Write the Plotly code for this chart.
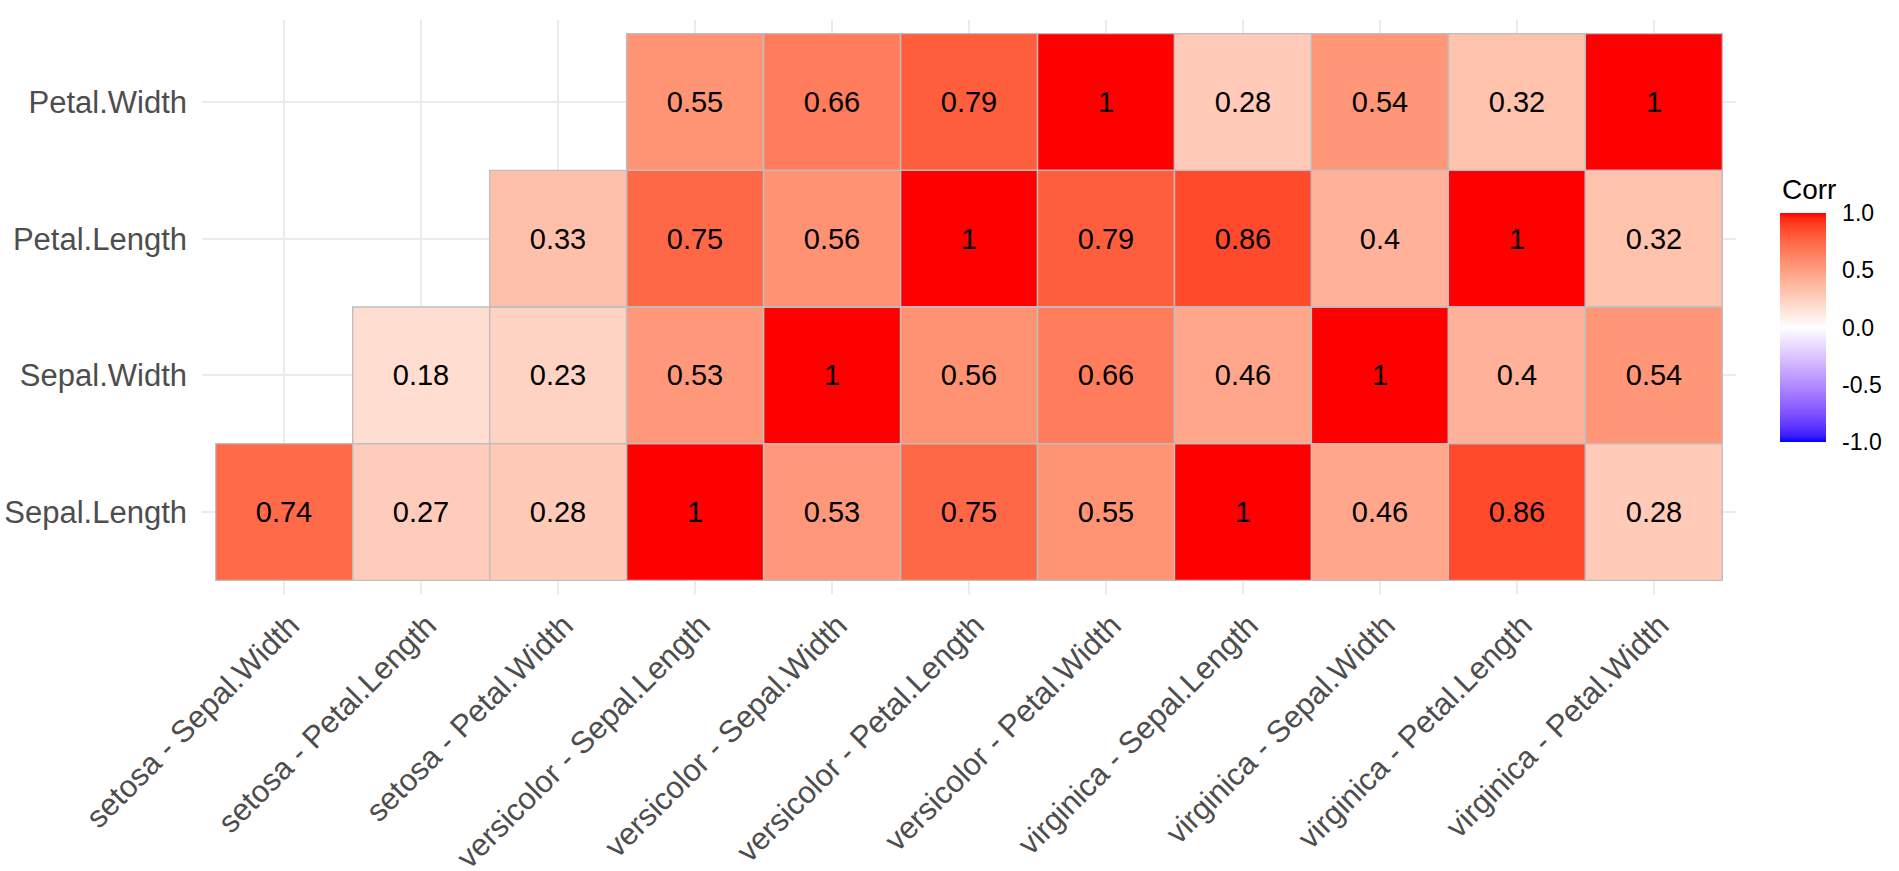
import numpy as np
import plotly.graph_objects as go

# ---------------- data ----------------
x_labels = [
    "setosa - Sepal.Width", "setosa - Petal.Length", "setosa - Petal.Width",
    "versicolor - Sepal.Length", "versicolor - Sepal.Width", "versicolor - Petal.Length",
    "versicolor - Petal.Width", "virginica - Sepal.Length", "virginica - Sepal.Width",
    "virginica - Petal.Length", "virginica - Petal.Width",
]
y_labels = ["Sepal.Length", "Sepal.Width", "Petal.Length", "Petal.Width"]  # bottom -> top

row_sepal_length = [0.74, 0.27, 0.28, 1, 0.53, 0.75, 0.55, 1, 0.46, 0.86, 0.28]
row_sepal_width = [None, 0.18, 0.23, 0.53, 1, 0.56, 0.66, 0.46, 1, 0.4, 0.54]
row_petal_length = [None, None, 0.33, 0.75, 0.56, 1, 0.79, 0.86, 0.4, 1, 0.32]
row_petal_width = [None, None, None, 0.55, 0.66, 0.79, 1, 0.28, 0.54, 0.32, 1]

z_rows = [row_sepal_length, row_sepal_width, row_petal_length, row_petal_width]

legend_title = "Corr"
legend_ticks = [-1.0, -0.5, 0.0, 0.5, 1.0]
legend_ticktext = ["-1.0", "-0.5", "0.0", "0.5", "1.0"]

# ---------------- colour scale (ggplot gradient2 in Lab) ----------------
M = np.array([[0.4124564, 0.3575761, 0.1804375],
              [0.2126729, 0.7151522, 0.0721750],
              [0.0193339, 0.1191920, 0.9503041]])
Minv = np.linalg.inv(M)
WN = np.array([0.95047, 1.0, 1.08883])
d = 6 / 29


def rgb2lab(rgb):
    c = np.array(rgb) / 255.0
    lin = np.where(c <= 0.04045, c / 12.92, ((c + 0.055) / 1.055) ** 2.4)
    xyz = M @ lin / WN
    f = np.where(xyz > d ** 3, np.cbrt(xyz), xyz / (3 * d * d) + 4 / 29)
    return np.array([116 * f[1] - 16, 500 * (f[0] - f[1]), 200 * (f[1] - f[2])])


def lab2rgb(lab):
    L_, a, b = lab
    fy = (L_ + 16) / 116
    fx = fy + a / 500
    fz = fy - b / 200
    f = np.array([fx, fy, fz])
    xyz = np.where(f > d, f ** 3, 3 * d * d * (f - 4 / 29)) * WN
    lin = Minv @ xyz
    lin = np.clip(lin, 0, 1)
    c = np.where(lin <= 0.0031308, 12.92 * lin, 1.055 * lin ** (1 / 2.4) - 0.055)
    c = np.clip(np.round(c * 255), 0, 255).astype(int)
    return f"rgb({c[0]},{c[1]},{c[2]})"


lab_low = rgb2lab([0, 0, 255])
lab_mid = rgb2lab([255, 255, 255])
lab_high = rgb2lab([255, 0, 0])
colorscale = []
n = 41
for i in range(n):
    t = i / (n - 1)
    if t <= 0.5:
        s = t / 0.5
        lab = lab_low + (lab_mid - lab_low) * s
    else:
        s = (t - 0.5) / 0.5
        lab = lab_mid + (lab_high - lab_mid) * s
    colorscale.append([t, lab2rgb(lab)])

# ---------------- figure ----------------
FONT = "Liberation Sans, Arial, sans-serif"
W, H = 1899, 871
L, R, T, B = 202, 163, 20, 277
plot_w = W - L - R
plot_h = H - T - B

# colourbar geometry (pixels)
CB_LEFT, CB_THICK, CB_TOP, CB_LEN = 1780, 46, 213, 229
cb_x = (CB_LEFT - L) / plot_w
cb_ymid = (H - B - (CB_TOP + CB_LEN / 2)) / plot_h

xs = list(range(len(x_labels)))
ys = list(range(len(y_labels)))
text = [["" if v is None else f"{v:g}" for v in row] for row in z_rows]

fig = go.Figure()
fig.add_trace(go.Heatmap(
    x=xs, y=ys, z=z_rows, text=text, texttemplate="%{text}",
    textfont=dict(family=FONT, size=29, color="black"),
    colorscale=colorscale, zmin=-1, zmax=1, hoverongaps=False,
    colorbar=dict(
        tickvals=legend_ticks, ticktext=legend_ticktext,
        tickfont=dict(family=FONT, size=23, color="black"),
        ticks="outside", ticklen=12, tickcolor="white", tickwidth=1,
        thickness=CB_THICK, thicknessmode="pixels",
        len=CB_LEN, lenmode="pixels",
        x=cb_x, xanchor="left", xpad=0,
        y=cb_ymid, yanchor="middle", ypad=0,
        outlinewidth=0,
    ),
))

# cell outlines
for j, row in enumerate(z_rows):
    for i, v in enumerate(row):
        if v is None:
            continue
        fig.add_shape(type="rect", xref="x", yref="y",
                      x0=xs[i] - 0.5, x1=xs[i] + 0.5, y0=ys[j] - 0.5, y1=ys[j] + 0.5,
                      line=dict(color="#BEBEBE", width=1.3), fillcolor="rgba(0,0,0,0)",
                      layer="above")

# white inner tick marks on the colourbar (both sides)
tick_len_px = CB_THICK / 5
for tv in legend_ticks:
    ypx = CB_TOP + CB_LEN * (1 - (tv + 1) / 2)
    yp = (H - B - ypx) / plot_h
    for xa, xb in [(CB_LEFT, CB_LEFT + tick_len_px), (CB_LEFT + CB_THICK - tick_len_px, CB_LEFT + CB_THICK)]:
        fig.add_shape(type="line", xref="paper", yref="paper",
                      x0=(xa - L) / plot_w, x1=(xb - L) / plot_w, y0=yp, y1=yp,
                      line=dict(color="white", width=1.5), layer="above")

fig.add_annotation(
    text=legend_title, xref="paper", yref="paper",
    x=(CB_LEFT - L) / plot_w, y=(H - B - 189) / plot_h,
    xanchor="left", yanchor="middle", showarrow=False,
    font=dict(family=FONT, size=28, color="black"),
)

fig.update_layout(
    width=W, height=H,
    margin=dict(l=L, r=R, t=T, b=B, pad=0),
    paper_bgcolor="white", plot_bgcolor="white",
    font=dict(family=FONT),
    xaxis=dict(
        range=[-0.6, len(x_labels) - 0.4], tickvals=xs, ticktext=x_labels,
        tickangle=-45, tickfont=dict(family=FONT, size=31, color="#4D4D4D"),
        showgrid=True, gridcolor="#EBEBEB", gridwidth=2, zeroline=False,
        showline=False, ticks="", ticklabelstandoff=6, ticklabelshift=6,
        automargin=False,
    ),
    yaxis=dict(
        range=[-0.6, len(y_labels) - 0.4], tickvals=ys, ticktext=y_labels,
        tickfont=dict(family=FONT, size=31, color="#4D4D4D"),
        showgrid=True, gridcolor="#EBEBEB", gridwidth=2, zeroline=False,
        showline=False, ticks="", ticklabelstandoff=14, automargin=False,
    ),
)

fig.write_html("out.html")
